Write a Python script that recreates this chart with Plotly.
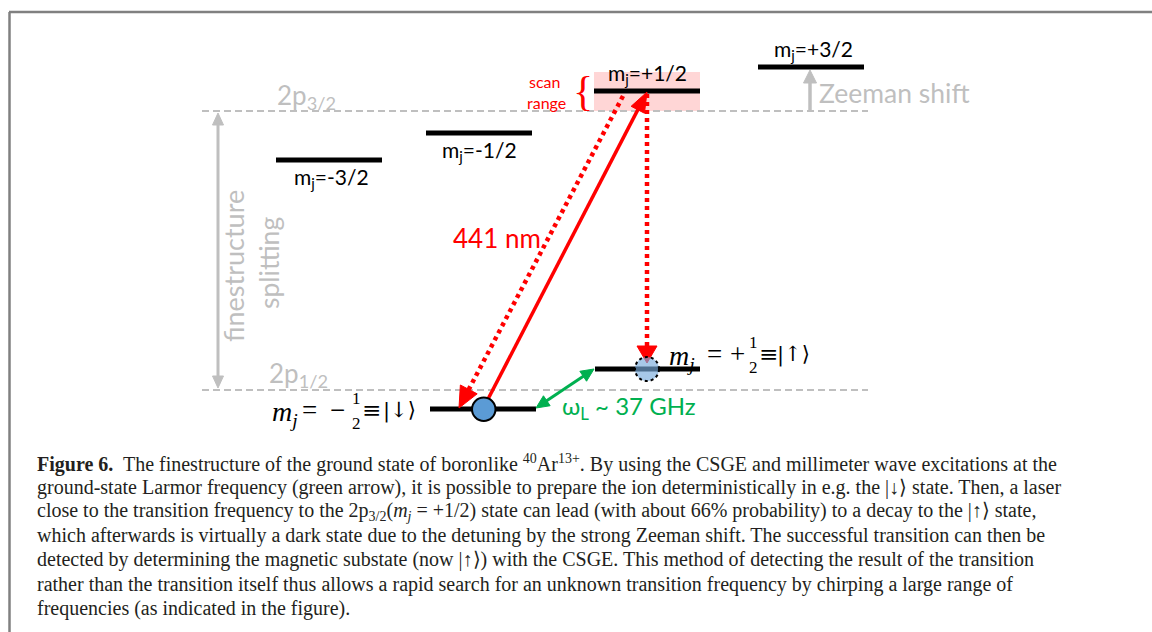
import numpy as np
import plotly.graph_objects as go

# ---------------- data (diagram values, pixel-space energy scale) ----------------
level_labels = ["m<sub>j</sub>=-3/2", "m<sub>j</sub>=-1/2", "m<sub>j</sub>=+1/2", "m<sub>j</sub>=+3/2"]
upper_x0 = [276, 426, 594, 758]
upper_x1 = [382, 532, 700, 864]
upper_E = [160, 133, 91, 67]
lower_x0 = [430, 595]
lower_x1 = [536, 700]
lower_E = [409, 369]
fine_E = [111, 390]          # unperturbed 2p3/2 and 2p1/2
fine_labels = ["2p<sub>3/2</sub>", "2p<sub>1/2</sub>"]

caption_lines = [
    "<b>Figure 6.</b>  The finestructure of the ground state of boronlike <sup>40</sup>Ar<sup>13+</sup>. By using the CSGE and millimeter wave excitations at the",
    "ground-state Larmor frequency (green arrow), it is possible to prepare the ion deterministically in e.g. the |↓⟩ state. Then, a laser",
    "close to the transition frequency to the 2p<sub>3/2</sub>(<i>m<sub>j</sub></i> = +1/2) state can lead (with about 66% probability) to a decay to the |↑⟩ state,",
    "which afterwards is virtually a dark state due to the detuning by the strong Zeeman shift. The successful transition can then be",
    "detected by determining the magnetic substate (now |↑⟩) with the CSGE. This method of detecting the result of the transition",
    "rather than the transition itself thus allows a rapid search for an unknown transition frequency by chirping a large range of",
    "frequencies (as indicated in the figure).",
]

W, H = 1152, 632
GRAY = "#bfbfbf"
RED = "#ff0000"
GREEN = "#00b050"
SANS = "Lato"

fig = go.Figure()
shapes = []
ann = []


def line(xs, ys, color, width, dash="solid"):
    fig.add_trace(go.Scatter(x=xs, y=ys, mode="lines", hoverinfo="skip",
                             line=dict(color=color, width=width, dash=dash)))


def head(tip, tail, L, Wd, color):
    tip = np.array(tip, float)
    tail = np.array(tail, float)
    u = (tip - tail) / np.linalg.norm(tip - tail)
    p = np.array([-u[1], u[0]])
    base = tip - u * L
    pts = [tip, base + p * Wd / 2, base - p * Wd / 2, tip]
    fig.add_trace(go.Scatter(x=[q[0] for q in pts], y=[q[1] for q in pts], mode="lines",
                             fill="toself", fillcolor=color, line=dict(color=color, width=1),
                             hoverinfo="skip"))
    return tip - u * L * 0.85


def arrow(tail, tip, color, width, L, Wd, dash="solid", both=False):
    end = head(tip, tail, L, Wd, color)
    start = tail
    if both:
        start = head(tail, tip, L, Wd, color)
    line([start[0], end[0]], [start[1], end[1]], color, width, dash)


def text(x, y, s, size, color="black", family=SANS, xanchor="center", yanchor="middle", angle=0):
    ann.append(dict(x=x, y=y, text=s, showarrow=False, xanchor=xanchor, yanchor=yanchor,
                    textangle=angle, borderpad=0, font=dict(size=size, color=color, family=family)))


# border
shapes.append(dict(type="line", x0=9, x1=W, y0=12, y1=12, line=dict(color="#808080", width=2.5)))
shapes.append(dict(type="line", x0=9.5, x1=9.5, y0=12, y1=H, line=dict(color="#808080", width=2.5)))

# scan range highlight
shapes.append(dict(type="rect", x0=upper_x0[2], x1=upper_x1[2], y0=72, y1=fine_E[0],
                   fillcolor="#ffd6d6", line=dict(width=0), layer="below"))

# dashed fine-structure reference lines
for e in fine_E:
    line([202, 868], [e, e], GRAY, 2, "7px,4px")

# levels
for x0, x1, e in zip(upper_x0 + lower_x0, upper_x1 + lower_x1, upper_E + lower_E):
    line([x0, x1], [e, e], "black", 5)

# level labels
text((upper_x0[0] + upper_x1[0]) / 2 + 2, upper_E[0] + 18, level_labels[0], 21)
text((upper_x0[1] + upper_x1[1]) / 2, upper_E[1] + 18, level_labels[1], 21)
text((upper_x0[2] + upper_x1[2]) / 2, upper_E[2] - 17, level_labels[2], 21)
text((upper_x0[3] + upper_x1[3]) / 2 + 2, upper_E[3] - 17, level_labels[3], 21)

text(276, fine_E[0] + 4, fine_labels[0], 26, GRAY, xanchor="left", yanchor="bottom")
text(268, fine_E[1] + 3, fine_labels[1], 26, GRAY, xanchor="left", yanchor="bottom")

# fine-structure splitting arrow
arrow((218, fine_E[0] + 2), (218, fine_E[1] - 2), GRAY, 3, 12, 11, both=True)
text(233, 266, "finestructure", 27, GRAY, angle=-90)
text(269, 263, "splitting", 26.5, GRAY, angle=-90)

# Zeeman shift arrow
arrow((810, fine_E[0]), (810, 70), GRAY, 3.5, 13, 13)
text(818, 93, "Zeeman shift", 26.5, GRAY, xanchor="left")

# scan range
text(544, 81, "scan", 16, RED)
text(546, 102, "range", 16, RED)
text(583, 91, "{", 42, RED, family="DejaVu Sans ExtraLight")

# red transitions
arrow((487, 401), (647, 92), RED, 3.5, 20, 15)
arrow((623, 96), (459, 408), RED, 4.5, 21, 19, dash="4px,4px")
arrow((647, 94), (647, 363), RED, 4.5, 17, 20, dash="4px,4px")
text(497, 238, "441 nm", 26, RED)

# green Larmor arrow
arrow((536, 408), (594, 369), GREEN, 3, 13, 12, both=True)
text(561, 407, "ω<sub>L</sub> ~ 37 GHz", 24, GREEN, xanchor="left")

# ions
shapes.append(dict(type="circle", x0=472, x1=495.5, y0=397.5, y1=421, fillcolor="#5b9bd5",
                   line=dict(color="black", width=2), layer="above"))
shapes.append(dict(type="circle", x0=635, x1=659, y0=357, y1=381, fillcolor="rgba(120,170,220,0.65)",
                   line=dict(color="black", width=2, dash="dot"), layer="above"))

# math state labels
MATH = "Liberation Serif"
KET = "DejaVu Serif"
text(271, 413, "<i>m<sub>j</sub></i>", 28, family=MATH, xanchor="left")
text(309, 410, "=", 27, family=MATH)
text(337, 410, "−", 27, family=MATH)
text(356, 398, "1", 17, family=MATH)
text(356, 423, "2", 17, family=MATH)
text(371, 410, "≡", 23, family=KET)
text(399, 410, "|↓⟩", 21, family=KET)

text(668, 357, "<i>m<sub>j</sub></i>", 28, family=MATH, xanchor="left")
text(714, 354, "=", 27, family=MATH)
text(737, 354, "+", 27, family=MATH)
text(753, 342, "1", 17, family=MATH)
text(753, 367, "2", 17, family=MATH)
text(768, 354, "≡", 23, family=KET)
text(793, 354, "|↑⟩", 21, family=KET)

# caption
for i, s in enumerate(caption_lines):
    text(36, 463 + i * 24.2, s, 20, "#231f20", family="Liberation Serif", xanchor="left")

fig.update_layout(
    width=W, height=H, margin=dict(l=0, r=0, t=0, b=0),
    paper_bgcolor="white", plot_bgcolor="white", showlegend=False,
    xaxis=dict(range=[0, W], visible=False, fixedrange=True),
    yaxis=dict(range=[H, 0], visible=False, fixedrange=True),
    shapes=shapes, annotations=ann,
)
fig.write_html("out.html", config={"displayModeBar": False},
               post_script="document.body.style.margin='0';")
